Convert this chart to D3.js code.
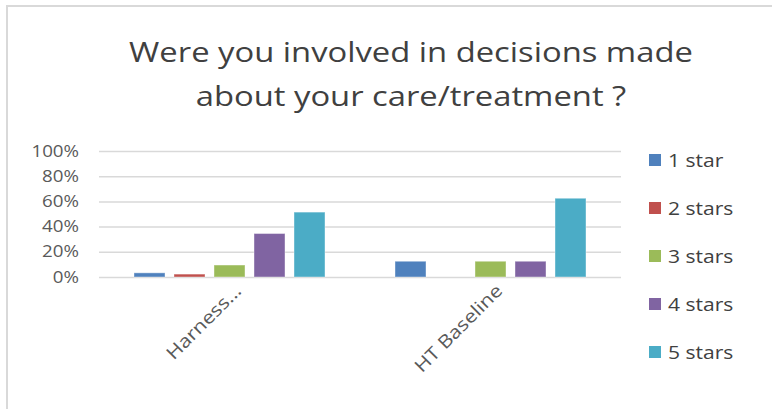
<head>
<meta charset="utf-8">
<style> body { margin: 0; background: #fff; } text { font-family: "Open Sans", sans-serif; } </style>
<script src="https://d3js.org/d3.v7.min.js"></script>
</head>
<body>
<div id="chart"></div>
<script>
const categories = ["Harness...", "HT Baseline"];
const series = ["1 star", "2 stars", "3 stars", "4 stars", "5 stars"];
const values = [
    [0.033, 0.023, 0.095, 0.345, 0.515],
    [0.125, 0, 0.125, 0.125, 0.625]
];
const yTicks = [0, 0.2, 0.4, 0.6, 0.8, 1];
const colors = ["#4F81BD", "#C0504D", "#9BBB59", "#8064A2", "#4BACC6"];
const titleLines = ["Were you involved in decisions made", "about your care/treatment ?"];

const width = 772, height = 409;
const plot = { left: 99, right: 621, top: 151, bottom: 277 };
const stretch = 1.17;

// the source font is wider than Open Sans, so widen every label a bit
function widen(sel) {
    sel.each(function () {
        const len = this.getComputedTextLength();
        d3.select(this)
            .attr("textLength", len * stretch)
            .attr("lengthAdjust", "spacingAndGlyphs");
    });
}

const svg = d3.select("#chart").append("svg")
    .attr("width", width)
    .attr("height", height);

// chart border
svg.append("rect")
    .attr("x", 7).attr("y", 6)
    .attr("width", width + 10).attr("height", height + 10)
    .attr("fill", "none")
    .attr("stroke", "#d9d9d9")
    .attr("stroke-width", 2);

svg.append("g").selectAll("text")
    .data(titleLines)
    .enter().append("text")
    .attr("x", 411)
    .attr("y", function (d, i) { return 62 + i * 44; })
    .attr("text-anchor", "middle")
    .attr("font-size", 28)
    .attr("fill", "#404040")
    .text(function (d) { return d; })
    .call(widen);

const y = d3.scaleLinear().domain([0, 1]).range([plot.bottom, plot.top]);
const x0 = d3.scaleBand().domain(categories).range([plot.left, plot.right]);
const inner = 191;
const x1 = d3.scaleBand().domain(series)
    .range([(x0.bandwidth() - inner) / 2, (x0.bandwidth() + inner) / 2])
    .paddingInner(0.225);

// gridlines + y labels
const yAxis = svg.append("g")
    .attr("transform", "translate(" + plot.left + ",0)")
    .call(d3.axisLeft(y).tickValues(yTicks).tickFormat(d3.format(".0%"))
        .tickSize(-(plot.right - plot.left)).tickPadding(20));
yAxis.select(".domain").remove();
yAxis.selectAll("line").attr("stroke", "#d9d9d9").attr("stroke-width", 1.5);
yAxis.selectAll("text").attr("font-size", 16).attr("fill", "#595959")
    .attr("font-family", "Open Sans, sans-serif")
    .call(widen);

// bars
const groups = svg.append("g").selectAll("g")
    .data(categories)
    .enter().append("g")
    .attr("transform", function (d) { return "translate(" + x0(d) + ",0)"; });

groups.selectAll("rect")
    .data(function (d, i) { return series.map(function (s, j) { return { s: s, j: j, v: values[i][j] }; }); })
    .enter().append("rect")
    .filter(function (d) { return d.v > 0; })
    .attr("x", function (d) { return x1(d.s); })
    .attr("y", function (d) { return y(d.v); })
    .attr("width", x1.bandwidth())
    .attr("height", function (d) { return y(0) - y(d.v); })
    .attr("fill", function (d) { return colors[d.j]; })
    .attr("stroke", "#ffffff")
    .attr("stroke-opacity", 0.4);

// category labels
svg.append("g").selectAll("text")
    .data(categories)
    .enter().append("text")
    .attr("transform", function (d) {
        return "translate(" + (x0(d) + x0.bandwidth() / 2 + 13) + "," + 292 + ") rotate(-45)";
    })
    .attr("text-anchor", "end")
    .attr("font-size", 18)
    .attr("fill", "#595959")
    .text(function (d) { return d; })
    .call(widen);

// legend
const legend = svg.append("g").selectAll("g")
    .data(series)
    .enter().append("g")
    .attr("transform", function (d, i) { return "translate(649," + (160 + i * 48) + ")"; });

legend.append("rect")
    .attr("x", 0).attr("y", -6)
    .attr("width", 12).attr("height", 12)
    .attr("fill", function (d, i) { return colors[i]; });

legend.append("text")
    .attr("x", 19).attr("y", 7)
    .attr("font-size", 18)
    .attr("fill", "#404040")
    .text(function (d) { return d; })
    .call(widen);
</script>
</body>
